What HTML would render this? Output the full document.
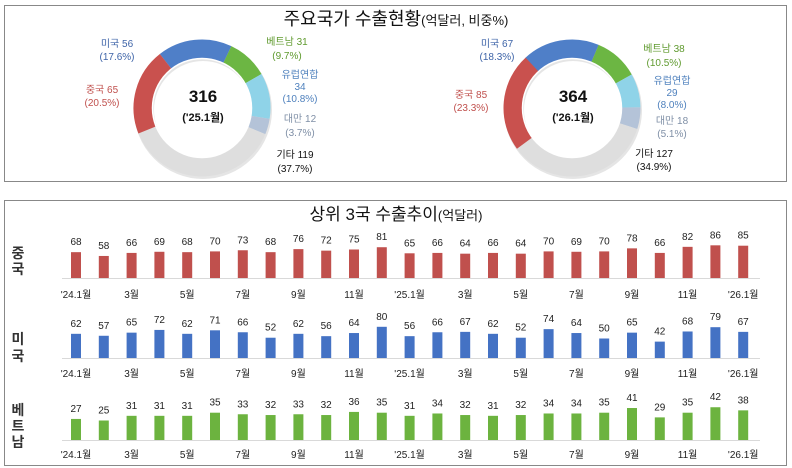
<!DOCTYPE html><html><head><meta charset="utf-8"><style>
body{margin:0;width:792px;height:468px;background:#fff;position:relative;font-family:"Liberation Sans","Noto Sans CJK KR",sans-serif;overflow:hidden}
.box{position:absolute;border:1px solid #888}
svg{position:absolute;left:0;top:0}
</style></head><body>
<div class="box" style="left:4px;top:5px;width:781px;height:175px"></div>
<div class="box" style="left:4px;top:200px;width:781px;height:264px"></div>
<svg width="792" height="468" id="s" font-family="Liberation Sans, Noto Sans CJK KR, sans-serif">
<text x="396" y="25" text-anchor="middle" font-size="18" fill="#111">주요국가 수출현황<tspan font-size="13">(억달러, 비중%)</tspan></text>
<text x="396" y="220" text-anchor="middle" font-size="17" fill="#111">상위 3국 수출추이<tspan font-size="13">(억달러)</tspan></text>
</svg>
<script>
const s=document.getElementById('s');const NS='http://www.w3.org/2000/svg';
function el(t,a,txt){const e=document.createElementNS(NS,t);for(const k in a)e.setAttribute(k,a[k]);if(txt!==undefined)e.textContent=txt;s.appendChild(e);return e;}
const cols=['#4f7fc8','#6cb643','#8fd3e8','#b4c3d8','#dedede','#c9514e'];
function donut(cx,cy,p,start){const r=59,C=2*Math.PI*r;let a=start;
 el('circle',{cx:cx+1,cy:cy+2,r:r,fill:'none',stroke:'#ccc','stroke-width':20,opacity:.5});
 p.forEach((v,i)=>{const len=v/100*C;el('circle',{cx,cy,r,fill:'none',stroke:cols[i],'stroke-width':19,'stroke-dasharray':len+' '+(C-len),transform:`rotate(${a} ${cx} ${cy})`});a+=v*3.6;});
 el('circle',{cx,cy,r:49.5,fill:'none',stroke:'#fff','stroke-width':1.5});}
donut(202,108,[17.6,9.7,10.8,3.7,37.7,20.5],-128);
donut(572,108,[18.3,10.5,8.0,5.1,34.9,23.3],-133);
function t(x,y,txt,c,sz,b,anc){el('text',{x,y,fill:c,'font-size':sz||10,'font-weight':b?'bold':'normal','text-anchor':anc||'middle'},txt);}
// left labels
t(117,47,'미국 56','#3e64a8');t(117,60,'(17.6%)','#3e64a8');
t(287,45,'베트남 31','#5f9a2e');t(287,59,'(9.7%)','#5f9a2e');
t(300,78,'유럽연합','#4f81bd');t(300,90,'34','#4f81bd');t(300,102,'(10.8%)','#4f81bd');
t(300,122,'대만 12','#7f8fa6');t(300,136,'(3.7%)','#7f8fa6');
t(295,158,'기타 119','#111');t(295,172,'(37.7%)','#111');
t(102,93,'중국 65','#c0504d');t(102,106,'(20.5%)','#c0504d');
t(203,102,'316','#111',17,1);t(203,121,"('25.1월)",'#111',11,1);
// right
t(497,47,'미국 67','#3e64a8');t(497,60,'(18.3%)','#3e64a8');
t(664,52,'베트남 38','#5f9a2e');t(664,66,'(10.5%)','#5f9a2e');
t(672,84,'유럽연합','#4f81bd');t(672,96,'29','#4f81bd');t(672,108,'(8.0%)','#4f81bd');
t(672,124,'대만 18','#7f8fa6');t(672,137,'(5.1%)','#7f8fa6');
t(654,157,'기타 127','#111');t(654,170,'(34.9%)','#111');
t(471,98,'중국 85','#c0504d');t(471,111,'(23.3%)','#c0504d');
t(573,102,'364','#111',17,1);t(573,121,"('26.1월)",'#111',11,1);
// bars
const rows=[
 {b:278,k:.38,c:'#c0504d',name:['중','국'],ny:[258,274],xl:298,v:[68,58,66,69,68,70,73,68,76,72,75,81,65,66,64,66,64,70,69,70,78,66,82,86,85]},
 {b:358,k:.39,c:'#4472c4',name:['미','국'],ny:[344,361],xl:377,v:[62,57,65,72,62,71,66,52,62,56,64,80,56,66,67,62,52,74,64,50,65,42,68,79,67]},
 {b:440,k:.78,c:'#6cb33f',name:['베','트','남'],ny:[415,431,447],xl:458,v:[27,25,31,31,31,35,33,32,33,32,36,35,31,34,32,31,32,34,34,35,41,29,35,42,38]}];
const xl=["'24.1월","3월","5월","7월","9월","11월","'25.1월","3월","5월","7월","9월","11월","'26.1월"];
rows.forEach(r=>{
 r.name.forEach((n,i)=>t(18,r.ny[i],n,'#333',14,1));
 el('line',{x1:62,y1:r.b+0.5,x2:760,y2:r.b+0.5,stroke:'#d9d9d9'});
 r.v.forEach((v,i)=>{const x=76+i*27.8,h=v*r.k;el('rect',{x:x-5,y:r.b-h,width:10,height:h,fill:r.c});t(x,r.b-h-7,String(v),'#222',10);});
 xl.forEach((l,j)=>t(76+j*2*27.8,r.xl,l,'#222',10));
});
</script>
</body></html>
